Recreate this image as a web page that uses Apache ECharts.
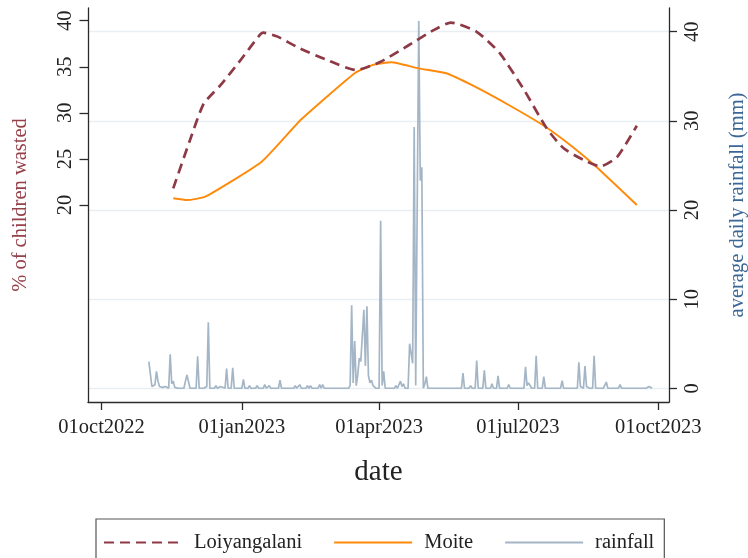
<!DOCTYPE html>
<html>
<head>
<meta charset="utf-8">
<script src="https://cdn.jsdelivr.net/npm/echarts@6/dist/echarts.min.js"></script>
<style>
  html, body { margin: 0; padding: 0; background: #ffffff; }
  #chart { width: 748px; height: 558px; }
</style>
</head>
<body>
<div id="chart"></div>
<script>
// ---------------- data ----------------
const xTickDates = ['2022-10-01', '2023-01-01', '2023-04-01', '2023-07-01', '2023-10-01'];
const monthNames = ['jan','feb','mar','apr','may','jun','jul','aug','sep','oct','nov','dec'];
const leftTicks = [20, 25, 30, 35, 40];
const rightTicks = [0, 10, 20, 30, 40];

const loiDates = ['2022-11-17','2022-11-28','2022-12-07','2022-12-18','2022-12-31','2023-01-12','2023-01-15','2023-01-24',
  '2023-02-08','2023-02-25','2023-03-17','2023-04-02','2023-04-19','2023-05-07','2023-05-18','2023-06-04','2023-06-19',
  '2023-07-05','2023-07-20','2023-07-31','2023-08-13','2023-08-24','2023-09-04','2023-09-17'];
const loiValues = [21.8, 27.05, 31.0, 33.0, 35.7, 38.3, 38.7, 38.3,
  37.0, 35.8, 34.65, 35.55, 37.2, 39.0, 39.8, 38.8, 36.5,
  32.5, 28.3, 26.15, 24.9, 24.2, 25.2, 28.6];

const moiteDates = ['2022-11-17','2022-11-26','2022-12-08','2023-01-14','2023-02-09','2023-03-16','2023-03-28','2023-04-09',
  '2023-04-27','2023-05-15','2023-06-01','2023-06-25','2023-07-19','2023-08-06','2023-08-21','2023-09-17'];
const moiteValues = [20.73, 20.54, 20.9, 24.7, 29.3, 34.3, 35.2, 35.5,
  34.83, 34.3, 33.0, 30.85, 28.5, 26.3, 24.2, 20.0];

const rainfall = [
  ['2022-11-01',3.0],['2022-11-02',2.8],['2022-11-03',0.2],['2022-11-04',0],['2022-11-05',0.4],['2022-11-06',1.9],
  ['2022-11-07',0.8],['2022-11-08',0.2],['2022-11-09',0],['2022-11-10',0.1],['2022-11-11',0],['2022-11-12',0.2],
  ['2022-11-13',0],['2022-11-14',0],['2022-11-15',3.8],['2022-11-16',0.5],['2022-11-17',0.8],['2022-11-18',0.1],
  ['2022-11-19',0.3],['2022-11-20',0],['2022-11-21',0.1],['2022-11-22',0],['2022-11-24',0],['2022-11-25',0.8],
  ['2022-11-26',1.5],['2022-11-27',1.4],['2022-11-28',0],['2022-12-02',0],['2022-12-03',3.6],['2022-12-04',0],
  ['2022-12-07',0],['2022-12-08',0.2],['2022-12-09',0.2],['2022-12-10',7.4],['2022-12-11',0],['2022-12-14',0],
  ['2022-12-15',0.3],['2022-12-16',0],['2022-12-18',0.2],['2022-12-19',0],['2022-12-21',0],['2022-12-22',2.2],
  ['2022-12-23',0],['2022-12-25',0],['2022-12-26',2.3],['2022-12-27',0],['2023-01-01',0],['2023-01-02',1.0],
  ['2023-01-03',0],['2023-01-05',0],['2023-01-06',0.3],['2023-01-07',0],['2023-01-10',0],['2023-01-11',0.3],
  ['2023-01-12',0],['2023-01-15',0],['2023-01-16',0.4],['2023-01-17',0],['2023-01-18',0],['2023-01-19',0.3],
  ['2023-01-20',0],['2023-01-25',0],['2023-01-26',0.9],['2023-01-27',0],['2023-02-04',0],['2023-02-05',0.3],
  ['2023-02-06',0],['2023-02-07',0],['2023-02-08',0.4],['2023-02-09',0],['2023-02-12',0],['2023-02-13',0.3],
  ['2023-02-14',0],['2023-02-15',0.3],['2023-02-16',0],['2023-02-20',0],['2023-02-21',0.4],['2023-02-22',0],
  ['2023-02-23',0.4],['2023-02-24',0],['2023-03-12',0],['2023-03-13',0.3],['2023-03-14',9.3],['2023-03-15',0.6],
  ['2023-03-16',5.3],['2023-03-17',0.3],['2023-03-18',1.5],['2023-03-19',3.4],['2023-03-20',3.0],['2023-03-21',2.8],
  ['2023-03-22',8.8],['2023-03-23',2.5],['2023-03-24',9.2],['2023-03-25',1.4],['2023-03-26',0.6],['2023-03-27',0.9],
  ['2023-03-28',0.3],['2023-03-29',0.1],['2023-03-30',0],['2023-04-01',0],['2023-04-02',18.8],['2023-04-03',0.3],
  ['2023-04-04',1.9],['2023-04-05',0],['2023-04-11',0],['2023-04-12',0.3],['2023-04-13',0],['2023-04-14',0],
  ['2023-04-15',0.8],['2023-04-16',0.2],['2023-04-17',0.5],['2023-04-18',0],['2023-04-20',0],['2023-04-21',5.0],
  ['2023-04-22',5.0],['2023-04-23',2.8],['2023-04-24',29.3],['2023-04-25',0.3],['2023-04-26',0.3],['2023-04-27',41.2],
  ['2023-04-28',23.3],['2023-04-29',24.8],['2023-04-30',0],['2023-05-01',0.5],['2023-05-02',1.3],['2023-05-03',0],
  ['2023-05-25',0],['2023-05-26',1.7],['2023-05-27',0],['2023-05-30',0],['2023-05-31',0.3],['2023-06-01',0],
  ['2023-06-03',0],['2023-06-04',3.1],['2023-06-05',0],['2023-06-08',0],['2023-06-09',2.0],['2023-06-10',0],
  ['2023-06-13',0],['2023-06-14',0.5],['2023-06-15',0],['2023-06-17',0],['2023-06-18',1.4],['2023-06-19',0],
  ['2023-06-24',0],['2023-06-25',0.4],['2023-06-26',0],['2023-07-03',0],['2023-07-04',0.2],['2023-07-05',0],
  ['2023-07-06',2.4],['2023-07-07',0.3],['2023-07-08',0.6],['2023-07-09',0.5],['2023-07-10',0],['2023-07-12',0],
  ['2023-07-13',3.65],['2023-07-14',0],['2023-07-17',0],['2023-07-18',1.3],['2023-07-19',0],['2023-07-22',0],
  ['2023-07-23',0.2],['2023-07-24',0],['2023-07-29',0],['2023-07-30',0.85],['2023-07-31',0],['2023-08-03',0],
  ['2023-08-04',0.2],['2023-08-05',0],['2023-08-07',0],['2023-08-08',0.2],['2023-08-09',0],['2023-08-10',2.9],
  ['2023-08-11',0.2],['2023-08-12',0],['2023-08-13',0],['2023-08-14',2.5],['2023-08-15',0.2],['2023-08-16',0],
  ['2023-08-17',0],['2023-08-18',0.2],['2023-08-19',0],['2023-08-20',3.65],['2023-08-21',0],['2023-08-24',0],
  ['2023-08-25',0.2],['2023-08-26',0],['2023-08-27',0],['2023-08-28',0.7],['2023-08-29',0],['2023-09-05',0],
  ['2023-09-06',0.4],['2023-09-07',0],['2023-09-21',0],['2023-09-22',0.2],['2023-09-23',0],['2023-09-24',0.1],
  ['2023-09-25',0.2],['2023-09-26',0],['2023-09-27',0]
];

// ---------------- helpers ----------------
// dates are converted to day numbers counted from 2022-10-01 (UTC based, no DST issues)
const EPOCH = Date.UTC(2022, 9, 1);
const DAY = 86400000;
function dayNum(s) {
  const p = s.split('-').map(Number);
  return (Date.UTC(p[0], p[1] - 1, p[2]) - EPOCH) / DAY;
}
function dayLabel(n) {
  const d = new Date(EPOCH + Math.round(n) * DAY);
  const dd = d.getUTCDate();
  return (dd < 10 ? '0' : '') + dd + monthNames[d.getUTCMonth()] + d.getUTCFullYear();
}

const FONT = 'Liberation Serif';
const AXIS_COLOR = '#2b2b2b';
const LOI_COLOR = '#8E3A46';
const MOITE_COLOR = '#FF8A0A';
const RAIN_COLOR = '#A4B6C6';

const loiData = loiDates.map((d, i) => [dayNum(d), loiValues[i]]);
const moiteData = moiteDates.map((d, i) => [dayNum(d), moiteValues[i]]);
const rainData = rainfall.map(r => [dayNum(r[0]), r[1]]);
const xTicks = xTickDates.map(dayNum);

const chart = echarts.init(document.getElementById('chart'), null, { renderer: 'canvas' });

const option = {
  animation: false,
  backgroundColor: '#ffffff',
  textStyle: { fontFamily: FONT },
  grid: { left: 88, right: 79, top: 8, bottom: 156, outerBoundsMode: 'none', containLabel: false },
  xAxis: {
    type: 'value',
    min: -8.9,
    max: 372.1,
    name: 'date',
    nameLocation: 'middle',
    nameGap: 56,
    nameTextStyle: { fontFamily: FONT, fontSize: 29, color: '#222' },
    axisLine: { show: true, onZero: false, lineStyle: { color: AXIS_COLOR, width: 1.3 } },
    axisTick: { show: true, length: 8, customValues: xTicks, lineStyle: { color: AXIS_COLOR, width: 1.3 } },
    axisLabel: {
      customValues: xTicks,
      margin: 15,
      fontFamily: FONT, fontSize: 20.5, color: '#222',
      formatter: dayLabel
    },
    splitLine: { show: false }
  },
  yAxis: [
    {
      type: 'value',
      position: 'left',
      min: -1.38, max: 41.38,
      name: '% of children wasted',
      nameLocation: 'middle',
      nameGap: 57,
      nameTextStyle: { fontFamily: FONT, fontSize: 20.5, color: '#96404A' },
      axisLine: { show: true, onZero: false, lineStyle: { color: AXIS_COLOR, width: 1.3 } },
      axisTick: { show: true, length: 8.5, customValues: leftTicks, lineStyle: { color: AXIS_COLOR, width: 1.3 } },
      axisLabel: { customValues: leftTicks, rotate: 90, margin: 12, fontFamily: FONT, fontSize: 20.5, color: '#222' },
      splitLine: { show: false }
    },
    {
      type: 'value',
      position: 'right',
      min: -1.54, max: 42.66,
      name: 'average daily rainfall (mm)',
      nameLocation: 'middle',
      nameGap: 58,
      nameTextStyle: { fontFamily: FONT, fontSize: 20.5, color: '#3B6796' },
      axisLine: { show: true, onZero: false, lineStyle: { color: AXIS_COLOR, width: 1.3 } },
      axisTick: { show: true, length: 8, customValues: rightTicks, lineStyle: { color: AXIS_COLOR, width: 1.3 } },
      axisLabel: { customValues: rightTicks, rotate: 90, margin: 13, fontFamily: FONT, fontSize: 20.5, color: '#222' },
      splitLine: { show: true, lineStyle: { color: '#E8EEF2', width: 1.4 } }
    }
  ],
  legend: {
    left: 96, top: 519,
    orient: 'horizontal',
    itemWidth: 78, itemHeight: 14, itemGap: 31,
    padding: [13, 10, 13, 7],
    borderColor: '#555', borderWidth: 1.2,
    itemStyle: { opacity: 0 },
    textStyle: { fontFamily: FONT, fontSize: 20.5, color: '#222', padding: [0, 0, 0, 7] },
    data: ['Loiyangalani', 'Moite', 'rainfall']
  },
  series: [
    {
      name: 'rainfall', type: 'line', yAxisIndex: 1, data: rainData,
      showSymbol: false, symbol: 'none', z: 1,
      lineStyle: { color: RAIN_COLOR, width: 1.7 }, itemStyle: { color: RAIN_COLOR }
    },
    {
      name: 'Moite', type: 'line', yAxisIndex: 0, data: moiteData,
      showSymbol: false, symbol: 'none', smooth: 0.15, z: 3,
      lineStyle: { color: MOITE_COLOR, width: 1.9 }, itemStyle: { color: MOITE_COLOR }
    },
    {
      name: 'Loiyangalani', type: 'line', yAxisIndex: 0, data: loiData,
      showSymbol: false, symbol: 'none', smooth: 0.2, z: 4,
      lineStyle: { color: LOI_COLOR, width: 2.7, type: [10, 6] }, itemStyle: { color: LOI_COLOR }
    }
  ]
};
chart.setOption(option);
</script>
</body>
</html>
